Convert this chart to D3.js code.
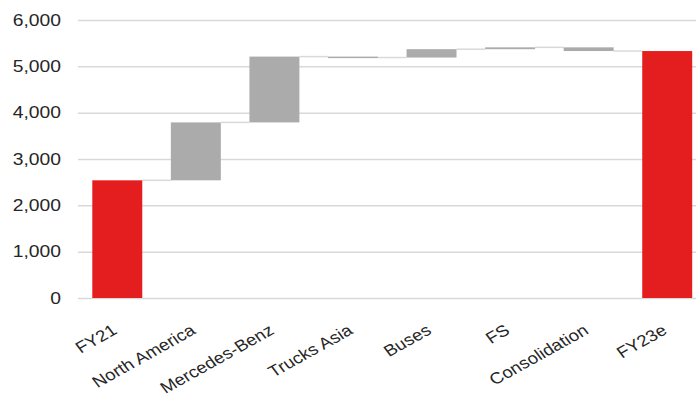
<!DOCTYPE html>
<html>
<head>
<meta charset="utf-8">
<script src="https://cdn.jsdelivr.net/npm/d3@7"></script>
<style>
  html, body { margin: 0; padding: 0; background: #fff; }
  svg { display: block; }
  text { font-family: "Liberation Sans", Arial, sans-serif; fill: #262626; }
</style>
</head>
<body>
<div id="chart"></div>
<script>
// Operating profit bridge FY21 -> FY23e (EUR m)
const categories = ["FY21", "North America", "Mercedes-Benz", "Trucks Asia", "Buses", "FS", "Consolidation", "FY23e"];
const kinds      = ["total", "delta", "delta", "delta", "delta", "delta", "delta", "total"];
const values     = [2540, 1250, 1420, -20, 180, 40, -80, 5330];
const yTicks     = [0, 1000, 2000, 3000, 4000, 5000, 6000];

const W = 696, H = 394;
const margin = { top: 20, left: 78, bottom: 96 };
const stretch = 1.17; // slightly widened lettering

const svg = d3.select("#chart").append("svg")
  .attr("width", W).attr("height", H);

const x = d3.scaleBand()
  .domain(categories)
  .range([margin.left, 706.5])
  .paddingInner(0.364)
  .paddingOuter(0.182);

const y = d3.scaleLinear()
  .domain([0, 6000])
  .range([H - margin.bottom, margin.top]);

// running start/end for each step
let running = 0;
const steps = categories.map((c, i) => {
  let start, end;
  if (kinds[i] === "total") { start = 0; end = values[i]; running = values[i]; }
  else { start = running; end = running + values[i]; running = end; }
  return { cat: c, kind: kinds[i], start, end };
});

// gridlines and y labels
const yAxis = d3.axisLeft(y)
  .tickValues(yTicks)
  .tickFormat(d3.format(","))
  .tickSize(-(W - margin.left))
  .tickPadding(17);

const gy = svg.append("g")
  .attr("transform", `translate(${margin.left},0)`)
  .call(yAxis);
gy.select(".domain").remove();
gy.selectAll(".tick line").attr("stroke", "#d9d9d9").attr("stroke-width", 1.5);
gy.selectAll(".tick text")
  .attr("font-size", 16.5)
  .style("font-family", "'Liberation Sans', Arial, sans-serif")
  .attr("fill", "#262626")
  .attr("x", 0)
  .attr("transform", `translate(-17,0) scale(${stretch},1)`);

// connectors between consecutive steps
svg.append("g").selectAll("line")
  .data(steps.slice(0, -1))
  .join("line")
  .attr("x1", d => x(d.cat) + x.bandwidth())
  .attr("x2", (d, i) => x(steps[i + 1].cat))
  .attr("y1", d => y(d.end))
  .attr("y2", d => y(d.end))
  .attr("stroke", "#d9d9d9")
  .attr("stroke-width", 1.5);

// bars
svg.append("g").selectAll("rect")
  .data(steps)
  .join("rect")
  .attr("x", d => x(d.cat))
  .attr("width", x.bandwidth())
  .attr("y", d => y(Math.max(d.start, d.end)))
  .attr("height", d => Math.max(1.5, Math.abs(y(d.start) - y(d.end))))
  .attr("fill", d => d.kind === "total" ? "#e41e1e" : "#ababab");

// rotated category labels
const xAxis = d3.axisBottom(x).tickSize(0).tickPadding(0);
const gx = svg.append("g")
  .attr("transform", `translate(0,${H - margin.bottom})`)
  .call(xAxis);
gx.select(".domain").remove();
gx.selectAll(".tick text")
  .attr("font-size", 16)
  .style("font-family", "'Liberation Sans', Arial, sans-serif")
  .attr("fill", "#262626")
  .attr("text-anchor", "end")
  .attr("dy", null)
  .attr("y", null)
  .attr("transform", `translate(1,35) scale(${stretch},1) rotate(-33)`);
</script>
</body>
</html>
